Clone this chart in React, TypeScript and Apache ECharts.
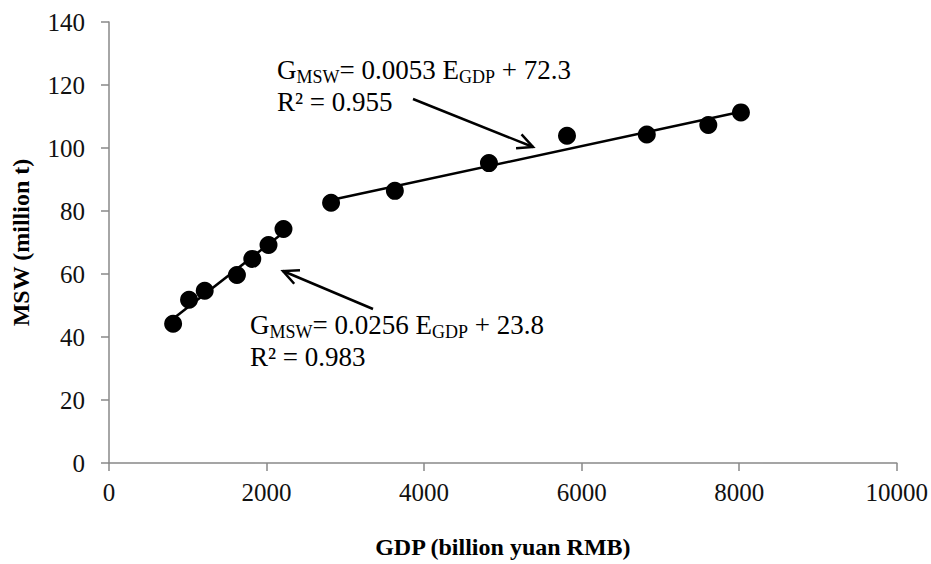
import React, { useEffect, useRef } from "react";
import * as echarts from "echarts";

// GDP (billion yuan RMB) and MSW (million t)
const gdpEarly = [814, 1016, 1215, 1624, 1819, 2025, 2215];
const mswEarly = [44.2, 51.8, 54.7, 59.7, 64.8, 69.2, 74.3];
const gdpLate = [2819, 3629, 4823, 5814, 6827, 7608, 8022];
const mswLate = [82.6, 86.4, 95.2, 103.9, 104.3, 107.3, 111.3];

const xTicks = [0, 2000, 4000, 6000, 8000, 10000];
const yTicks = [0, 20, 40, 60, 80, 100, 120, 140];

const eqLate = { a: "0.0053", b: "72.3", r2: "0.955" };
const eqEarly = { a: "0.0256", b: "23.8", r2: "0.983" };

const SERIF = "'Liberation Serif', 'Times New Roman', serif";

function fitLine(xs: number[], ys: number[]) {
  const n = xs.length;
  const mx = xs.reduce((s, v) => s + v, 0) / n;
  const my = ys.reduce((s, v) => s + v, 0) / n;
  let sxy = 0, sxx = 0;
  for (let i = 0; i < n; i++) {
    sxy += (xs[i] - mx) * (ys[i] - my);
    sxx += (xs[i] - mx) * (xs[i] - mx);
  }
  const k = sxy / sxx;
  const b = my - k * mx;
  const x0 = Math.min(...xs);
  const x1 = Math.max(...xs);
  return [[x0, k * x0 + b], [x1, k * x1 + b]];
}

const rich = {
  m: { fontFamily: SERIF, fontSize: 27, color: "#000", lineHeight: 32, verticalAlign: "middle" },
  s: { fontFamily: SERIF, fontSize: 18, color: "#000", lineHeight: 18, verticalAlign: "bottom" },
};

function eqText(x: number, y: number, eq: { a: string; b: string; r2: string }) {
  return [
    {
      type: "text",
      left: x,
      top: y,
      style: {
        text: `{m|G}{s|MSW}{m|= ${eq.a} E}{s|GDP}{m| + ${eq.b}}`,
        rich,
      },
    },
    {
      type: "text",
      left: x,
      top: y + 32,
      style: {
        text: `{m|R² = ${eq.r2}}`,
        rich,
      },
    },
  ];
}

function arrow(x1: number, y1: number, x2: number, y2: number) {
  const ang = Math.atan2(y2 - y1, x2 - x1);
  const L = 17;
  const spread = 0.45;
  const w1 = [x2 - L * Math.cos(ang - spread), y2 - L * Math.sin(ang - spread)];
  const w2 = [x2 - L * Math.cos(ang + spread), y2 - L * Math.sin(ang + spread)];
  return [
    {
      type: "line",
      shape: { x1, y1, x2, y2 },
      style: { stroke: "#000", lineWidth: 2.5 },
    },
    {
      type: "polyline",
      shape: { points: [w1, [x2, y2], w2] },
      style: { stroke: "#000", lineWidth: 2.5, fill: null },
    },
  ];
}

export default function App() {
  const ref = useRef<HTMLDivElement>(null);
  useEffect(() => {
    if (!ref.current) return;
    const chart = echarts.init(ref.current, undefined, { renderer: "svg" });
    const axisLabel = { fontFamily: SERIF, fontSize: 25, color: "#111" };
    const nameStyle = { fontFamily: SERIF, fontSize: 24, fontWeight: "bold", color: "#000" };
    chart.setOption({
      animation: false,
      backgroundColor: "#fff",
      grid: { left: 109, right: 32, top: 22, bottom: 100, containLabel: false },
      xAxis: {
        type: "value",
        min: xTicks[0],
        max: xTicks[xTicks.length - 1],
        interval: 2000,
        name: "GDP (billion yuan RMB)",
        nameLocation: "middle",
        nameGap: 72,
        nameTextStyle: nameStyle,
        axisLine: { show: true, onZero: false, lineStyle: { color: "#888", width: 1.5 } },
        axisTick: { show: true, length: 8, lineStyle: { color: "#888", width: 1.5 } },
        axisLabel: { ...axisLabel, margin: 17, formatter: (v: number) => String(v) },
        splitLine: { show: false },
      },
      yAxis: {
        type: "value",
        min: yTicks[0],
        max: yTicks[yTicks.length - 1],
        interval: 20,
        name: "MSW (million t)",
        nameLocation: "middle",
        nameGap: 76,
        nameTextStyle: nameStyle,
        axisLine: { show: true, lineStyle: { color: "#888", width: 1.5 } },
        axisTick: { show: true, length: 8, lineStyle: { color: "#888", width: 1.5 } },
        axisLabel: { ...axisLabel, margin: 24, formatter: (v: number) => String(v) },
        splitLine: { show: false },
      },
      series: [
        {
          type: "line",
          data: fitLine(gdpEarly, mswEarly),
          symbol: "none",
          lineStyle: { color: "#000", width: 2.5 },
          z: 2,
        },
        {
          type: "line",
          data: fitLine(gdpLate, mswLate),
          symbol: "none",
          lineStyle: { color: "#000", width: 2.5 },
          z: 2,
        },
        {
          type: "scatter",
          data: gdpEarly.map((g, i) => [g, mswEarly[i]]),
          symbolSize: 18,
          itemStyle: { color: "#000", opacity: 1 },
          z: 3,
        },
        {
          type: "scatter",
          data: gdpLate.map((g, i) => [g, mswLate[i]]),
          symbolSize: 18,
          itemStyle: { color: "#000", opacity: 1 },
          z: 3,
        },
      ],
      graphic: [
        ...eqText(277, 56, eqLate),
        ...eqText(250, 311, eqEarly),
        ...arrow(413, 99, 533, 147),
        ...arrow(373, 309, 283, 271),
      ],
    });
    return () => chart.dispose();
  }, []);
  return <div ref={ref} style={{ width: 931, height: 564, position: "absolute", left: 0, top: 0 }} />;
}
